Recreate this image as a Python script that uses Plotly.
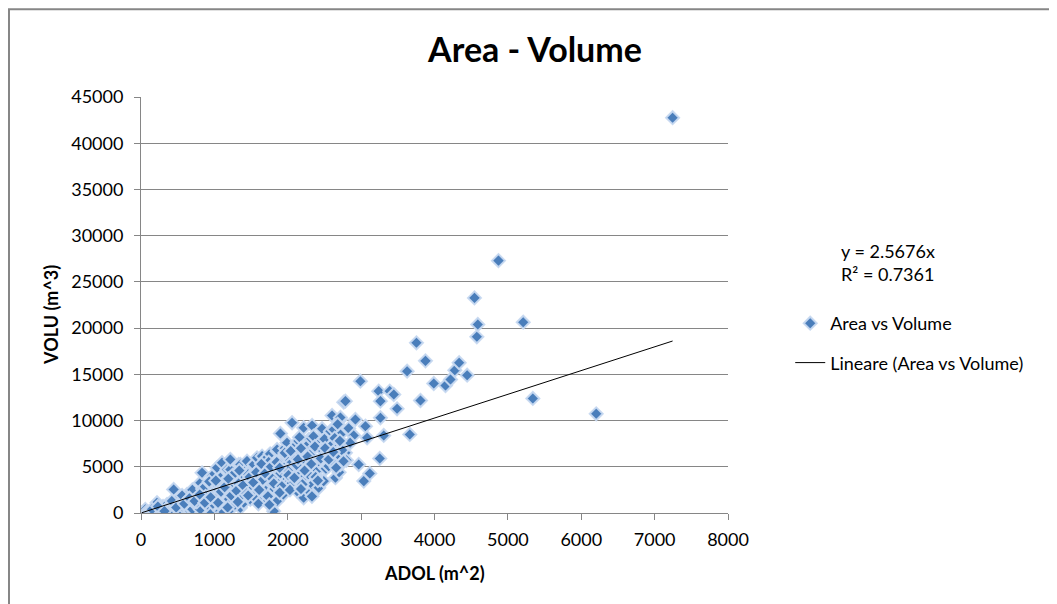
import plotly.graph_objects as go

# ADOL (m^2) vs VOLU (m^3)
adol = [10, 30, 50, 59, 80, 100, 127, 140, 160, 180, 200, 218, 240, 260, 280, 300, 309, 330, 355, 370,
        390, 410, 430, 445, 468, 491, 510, 530, 550, 570, 600, 627, 627, 650, 680, 700, 720, 750, 763, 790,
        809, 809, 832, 850, 877, 900, 920, 945, 968, 968, 990, 1013, 1036, 1036, 1060, 1081, 1081, 1104, 1127, 1127,
        1150, 1172, 1172, 1195, 1218, 1218, 1218, 1240, 1263, 1290, 1309, 1309, 1331, 1354, 1354, 1354, 1380, 1400, 1422, 1445,
        1445, 1470, 1490, 1510, 1536, 1560, 1581, 1604, 1627, 1650, 1672, 1695, 1720, 1740, 1760, 1786, 1808, 1808, 1830, 1854,
        1854, 1854, 1880, 1900, 1900, 1930, 1960, 1990, 1990, 2013, 2036, 2059, 2081, 2100, 2127, 2127, 2150, 2172, 2195, 2217,
        2217, 2240, 2263, 2286, 2310, 2332, 2332, 2332, 2360, 2400, 2422, 2422, 2445, 2468, 2490, 2490, 2520, 2558, 2581, 2581,
        2604, 2604, 2627, 2650, 2672, 2700, 2718, 2718, 2718, 2718, 2763, 2763, 2786, 2786, 2831, 2899, 2922, 2967, 2990, 3036,
        3059, 3082, 3118, 3254, 3240, 3263, 3263, 3308, 3390, 3445, 3490, 3627, 3663, 3754, 3809, 3877, 3990, 4150, 4218, 4277,
        4336, 4445, 4545, 4577, 4590, 4872, 5209, 5340, 6204, 7245,
        560, 640, 700, 760, 840, 880, 930, 980, 1050, 1100, 1160, 1200, 1250, 1280, 1330, 1370, 1420, 1460, 1500, 1540,
        1580, 1620, 1660, 1700, 1740, 1780, 1820, 1860, 1900, 1940, 1970, 2000, 2050, 2070, 2120, 2160, 2200, 2250, 2280, 2300,
        2350, 2380, 2420, 2460, 2500, 2540, 2600, 2640, 2680, 2740, 2800, 2850,
        150, 230, 320, 420, 480, 590, 660, 730, 800, 870, 950, 1020, 1090, 1140, 1190, 1230, 1300, 1340, 1390, 1440,
        1480, 1530, 1570, 1610, 1640, 1690, 1730, 1770, 1810, 1850, 1890, 1920, 1960, 2010, 2040, 2090, 2140, 2180, 2230, 2270,
        2320, 2370, 2410, 2450, 2510, 2560, 2620, 2660, 2710, 2760, 1050, 1180, 1320, 1460, 1600, 1750, 1890, 2030, 2180, 2330]
volu = [20, 60, 40, 390, 150, 90, 30, 250, 330, 120, 450, 1110, 300, 600, 200, 700, 390, 520, 930, 250,
        800, 450, 1000, 2550, 1290, 570, 850, 300, 1200, 700, 1500, 2010, 570, 750, 1100, 400, 1700, 900, 1650, 2300,
        390, 3280, 4350, 1300, 2010, 2910, 700, 570, 3990, 50, 2200, 1470, 3090, 4900, 2500, 200, 3820, 5440, 1830, 100,
        3500, 3280, 4710, 1000, 390, 4710, 5790, 2200, 2730, 3600, 1650, 3990, 5250, 570, 2550, 5250, 4200, 1100, 4530, 2910,
        5610, 3500, 1470, 4800, 5250, 2200, 5970, 3990, 2730, 6150, 1470, 5790, 3300, 4170, 6400, 2190, 5250, 200, 4600, 1290,
        6690, 6875, 3000, 3630, 8600, 5600, 7000, 2550, 7600, 3280, 5610, 9760, 4710, 6000, 2370, 7660, 4000, 6520, 3630, 1650,
        9220, 5400, 4900, 7960, 2200, 3090, 6875, 9470, 5800, 4530, 2730, 7960, 3600, 9110, 3450, 6150, 4800, 5070, 7060, 8850,
        7420, 10550, 9040, 3820, 6150, 4400, 5250, 8500, 10120, 10330, 7420, 11990, 6520, 12100, 9150, 8390, 10120, 5250, 14260, 3450,
        9390, 8140, 4280, 5900, 13180, 12100, 10300, 8390, 13180, 12820, 11270, 15340, 8500, 18410, 12170, 16460, 14010, 13790, 14440, 15450,
        16250, 14910, 23270, 19060, 20390, 27300, 20640, 12390, 10730, 42760,
        1900, 1400, 2500, 1200, 2600, 1800, 3400, 1000, 1800, 2900, 2300, 1500, 4100, 900, 3200, 1900, 2500, 4200, 3000, 3800,
        1500, 4800, 3600, 2400, 5500, 3800, 2600, 5000, 4300, 2000, 6200, 4600, 3200, 7000, 5200, 8200, 3100, 7200, 4200, 6300,
        8300, 3900, 5600, 6900, 8000, 6300, 5600, 8100, 9600, 6800, 5700, 7600,
        400, 700, 200, 1300, 600, 1000, 1600, 1300, 2000, 1100, 1700, 3500, 2300, 2800, 3700, 1900, 2400, 4600, 3000, 2100,
        3900, 3300, 4400, 2500, 5300, 4300, 1800, 5000, 3200, 5500, 4900, 2900, 6500, 4100, 6700, 3800, 5800, 7000, 4600, 6100,
        5300, 7200, 3500, 5900, 7000, 5800, 6600, 4900, 7800, 5600, 1100, 600, 1200, 1900, 1000, 900, 2200, 2500, 2600, 1800]

slope = 2.5676
r_squared = 0.7361

x_ticks = [0, 1000, 2000, 3000, 4000, 5000, 6000, 7000, 8000]
y_ticks = [0, 5000, 10000, 15000, 20000, 25000, 30000, 35000, 40000, 45000]

FONT = "Lato, 'Open Sans', sans-serif"
GRAY = "#868686"

x_min, x_max = min(adol), max(adol)
trend_x = [x_min, x_max]
trend_y = [slope * v for v in trend_x]

fig = go.Figure()
fig.add_trace(go.Scatter(
    x=adol, y=volu, mode="markers", name="Area vs Volume",
    marker=dict(symbol="diamond", size=10, color="#4A7EBB",
                line=dict(color="rgba(198,216,240,0.95)", width=2)),
    legendgroup="a",
))
fig.add_trace(go.Scatter(
    x=trend_x, y=trend_y, mode="lines", name="Lineare (Area vs Volume)",
    line=dict(color="black", width=1), legendgroup="b",
))

fig.update_layout(
    width=1057, height=604,
    margin=dict(l=133, r=337, t=89, b=99),
    paper_bgcolor="white", plot_bgcolor="white",
    font=dict(family=FONT, size=18, color="black"),
    title=dict(text="<b>Area - Volume</b>", x=0.4986, xanchor="center",
               y=1 - 42 / 604, yanchor="middle", yref="container",
               font=dict(family=FONT, size=34, color="black")),
    showlegend=True,
    legend=dict(x=1.106, xanchor="left", y=0.500, yanchor="top",
                font=dict(family=FONT, size=18, color="black"),
                bgcolor="rgba(0,0,0,0)", tracegroupgap=13,
                traceorder="grouped", itemwidth=30),
    xaxis=dict(range=[0, 8000], tickvals=x_ticks, ticktext=[str(v) for v in x_ticks],
               showgrid=False, zeroline=False, showline=True, linecolor=GRAY, linewidth=1,
               ticks="outside", ticklen=6, tickcolor=GRAY, ticklabelstandoff=4,
               tickfont=dict(family=FONT, size=18, color="black")),
    yaxis=dict(range=[0, 45000], tickvals=y_ticks, ticktext=[str(v) for v in y_ticks],
               showgrid=True, gridcolor=GRAY, gridwidth=1, zeroline=False,
               showline=True, linecolor=GRAY, linewidth=1,
               ticks="outside", ticklen=6, tickcolor=GRAY, ticklabelstandoff=7,
               tickfont=dict(family=FONT, size=18, color="black")),
    annotations=[
        dict(text="<b>ADOL (m^2)</b>", xref="paper", yref="paper", x=0.5, y=-0.144,
             xanchor="center", yanchor="middle", showarrow=False,
             font=dict(family=FONT, size=18, color="black")),
        dict(text="<b>VOLU (m^3)</b>", xref="paper", yref="paper", x=-0.1545, y=0.477,
             xanchor="center", yanchor="middle", showarrow=False, textangle=-90,
             font=dict(family=FONT, size=18, color="black")),
        dict(text=f"y = {slope}x<br>R² = {r_squared}", xref="paper", yref="paper",
             x=1.189, y=0.601, xanchor="left", yanchor="middle", align="left",
             showarrow=False, font=dict(family=FONT, size=18, color="black")),
    ],
    shapes=[
        dict(type="rect", xref="paper", yref="paper", x0=-0.2249, x1=2.5, y0=-1.5, y1=1.211,
             line=dict(color=GRAY, width=2), fillcolor="rgba(0,0,0,0)", layer="below"),
    ],
)

fig.write_html("out.html")
